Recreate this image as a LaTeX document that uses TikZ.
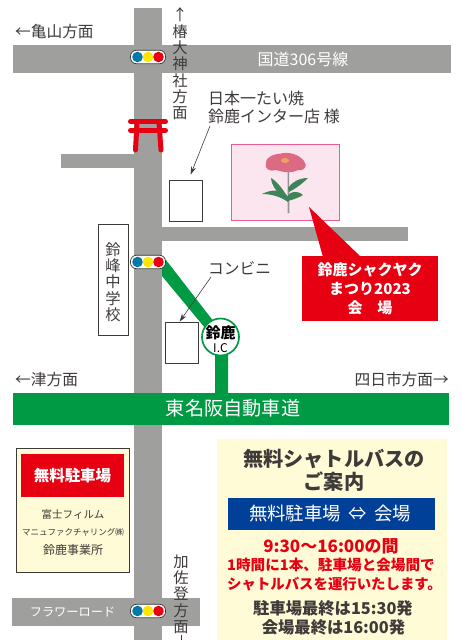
\documentclass[tikz,border=0pt]{standalone}
\usepackage{fontspec}
\setmainfont{Noto Sans CJK JP}
\usetikzlibrary{arrows.meta}
\definecolor{roadg}{HTML}{9FA09E}
\definecolor{hwy}{HTML}{009A44}
\definecolor{jred}{HTML}{E60012}
\definecolor{cream}{HTML}{FFFBD6}
\definecolor{navy}{HTML}{004098}
\definecolor{ink}{HTML}{3E3A39}
\definecolor{lblue}{HTML}{0079A8}
\definecolor{lyel}{HTML}{FFE600}
\definecolor{pinkb}{HTML}{EE5A92}
\definecolor{pinkf}{HTML}{FBE6F0}
\definecolor{leaf}{HTML}{3F8458}
\definecolor{petal}{HTML}{DC6A82}
\definecolor{heart}{HTML}{F2A060}
\tikzset{
  road/.style={fill=roadg,draw=none},
  lbl/.style={text=ink,font=\fontsize{15.7}{17}\selectfont,inner sep=0pt},
  vlbl/.style={text=ink,font=\fontsize{15.3}{16.3}\selectfont,inner sep=0pt,align=center},
  bx/.style={draw=ink,line width=.8pt,fill=white},
  lead/.style={draw=ink,line width=.6pt,-{Stealth[length=8pt,width=5pt]}},
  wlbl/.style={text=white,inner sep=0pt,align=center},
  rl/.style={text=jred,inner sep=0pt},
  bl/.style={text=ink,inner sep=0pt},
}
\newcommand{\lamp}[2]{%
  \node[draw=ink,fill=white,line width=.7pt,rounded corners=6pt,minimum width=35pt,minimum height=13.5pt,inner sep=0pt] (#1) at (#2) {};
  \fill[lblue] ([xshift=-10.5pt]#1.center) circle (5.3pt);
  \fill[lyel] (#1.center) circle (5.3pt);
  \fill[jred] ([xshift=10.5pt]#1.center) circle (5.3pt);}
\begin{document}
\begin{tikzpicture}[x=1pt,y=-1pt]
\useasboundingbox (0,0) rectangle (462,640);
\fill[white] (0,0) rectangle (462,640);
% roads
\fill[road] (134,8) rectangle (162,640);
\fill[road] (13,45) rectangle (451,73);
\fill[road] (61,154) rectangle (134,168);
\fill[road] (162,227) rectangle (408,241);
\fill[road] (12,598) rectangle (200,626);
% green link
\fill[hwy] (162,262) -- (162,276) -- (215,340) -- (215,393) -- (228,393) -- (228,340) -- (166,260) -- cycle;
\fill[hwy] (13,393) rectangle (449,425);
\node[wlbl,font=\fontsize{19.2}{21}\selectfont] (tomei) at (233,408.5) {東名阪自動車道};
% IC
\node[circle,draw=hwy,line width=1.7pt,fill=white,minimum size=37pt,inner sep=0pt] (ic) at (220.5,337) {};
\node[inner sep=0pt,font=\bfseries\fontsize{15}{16}\selectfont] (icA) at (220.5,333) {鈴鹿};
\node[inner sep=0pt,font=\fontsize{12}{13}\selectfont] (icB) at (220.5,348) {I.C};
% lights
\lamp{la}{148,57}
\lamp{lb}{148,262}
\lamp{lc}{148,611}
% torii
\begin{scope}[draw=jred,line width=5pt,line cap=round]
\draw (130.5,121.5) -- (165.5,121.5);
\draw (130.5,130.5) -- (165.5,130.5);
\draw (137,123) -- (135.5,150);
\draw (159,123) -- (161,150);
\end{scope}
% buildings
\node[bx,minimum width=33pt,minimum height=41pt,inner sep=0pt] (b1) at (185.5,200.5) {};
\node[bx,minimum width=33pt,minimum height=41pt,inner sep=0pt] (b2) at (181.5,342.5) {};
\node[bx,minimum width=30pt,minimum height=111pt,inner sep=0pt] (sch) at (113,280) {};
\node[vlbl] (schl) at (113,282) {鈴\\峰\\中\\学\\校};
% labels
\node[lbl,anchor=west] (kame) at (15,31.5) {←亀山方面};
\node[vlbl] (tsub) at (180,64) {↑\\椿\\大\\神\\社\\方\\面};
\node[wlbl,font=\fontsize{16}{17}\selectfont] (r306) at (303,59) {国道306号線};
\node[lbl,anchor=west,align=left,font=\fontsize{16}{18.5}\selectfont] (nihon) at (208,107.5) {日本一たい焼\\鈴鹿インター店 様};
\coordinate (nihonEnd) at (210,126);
\draw[lead] (nihonEnd) -- ([shift={(22pt,5pt)}]b1.north west);
\node[lbl,anchor=west] (conv) at (208,268) {コンビニ};
\coordinate (convEnd) at (211,277);
\draw[lead] (convEnd) -- ([xshift=15pt]b2.north west);
\node[lbl,anchor=west] (tsu) at (15,380) {←津方面};
\node[lbl,anchor=east] (yok) at (449,380) {四日市方面→};
\node[vlbl] (kasa) at (181,594) {加\\佐\\登\\方\\面};
\coordinate (kasaEnd) at (181,640);
\draw[ink,line width=.6pt] (kasa.south) ++(0,1.5) -- (kasaEnd);
\node[wlbl,font=\fontsize{12.2}{13}\selectfont] (flower) at (72.5,612) {フラワーロード};
% venue
\node[draw=pinkb,fill=pinkf,line width=1pt,minimum width=108pt,minimum height=76pt,inner sep=0pt] (venue) at (285,182) {};
% flower
\begin{scope}
\fill[ink!55] (287.5,170) -- (289,170) -- (289.5,213) -- (287.5,213) -- cycle;
\fill[leaf] (288,202) .. controls (281,197) and (272,194) .. (262,194) .. controls (272,189) and (282,189) .. (288,197) -- cycle;
\fill[leaf] (288,201) .. controls (295,199) and (300,197) .. (303,195) .. controls (297,190) and (290,191) .. (287,197) -- cycle;
\fill[leaf] (287,196) .. controls (283,190) and (278,182) .. (271,178) .. controls (272,188) and (279,194) .. (286,199) -- cycle;
\fill[leaf] (289,192) .. controls (295,189) and (302,184) .. (308,178) .. controls (299,178) and (292,182) .. (288,188) -- cycle;
\fill[petal] (266,163) .. controls (266,156) and (275,154) .. (281,153.5) .. controls (287,152) and (298,153) .. (304,161) .. controls (308,166) and (305,171) .. (298,170) .. controls (290,174) and (283,172) .. (276,170) .. controls (270,172) and (264,169) .. (266,163) -- cycle;
\fill[heart] (285,160.5) ellipse (4pt and 2.5pt);
\end{scope}
% red callout
\node[fill=jred,minimum width=136pt,minimum height=65pt,inner sep=0pt] (redbox) at (370,288.5) {};
\coordinate (tip) at (309,207);
\fill[jred] (tip) -- (361,257) -- (323,257) -- cycle;
\node[wlbl,font=\bfseries\fontsize{15}{19}\selectfont] (redtxt) at (370,288.5) {鈴鹿シャクヤク\\まつり2023\\会\hspace{1em}場};
% left yellow box
\node[draw=ink,fill=cream,line width=1pt,minimum width=113pt,minimum height=124pt,inner sep=0pt] (park) at (72.5,510) {};
\node[fill=jred,minimum width=103pt,minimum height=43pt,inner sep=0pt,wlbl,font=\bfseries\fontsize{15.5}{17}\selectfont] (parkt) at (72.5,475.5) {無料駐車場};
\node[lbl,font=\fontsize{10.5}{12}\selectfont] (p1) at (73,514.5) {富士フィルム};
\node[lbl,font=\fontsize{8.5}{12}\selectfont] (p2) at (73,532) {マニュファクチャリング㈱};
\node[lbl,font=\fontsize{12}{13}\selectfont] (p3) at (73,550) {鈴鹿事業所};
% right yellow box
\fill[cream] (217,439) rectangle (447,640);
\node[bl,font=\bfseries\fontsize{20.2}{23}\selectfont,align=center] (h) at (334,470.5) {無料シャトルバスの\\ご案内};
\node[fill=navy,minimum width=207pt,minimum height=32pt,inner sep=0pt] (blue) at (331.5,514) {};
\node[wlbl,font=\fontsize{18.4}{20}\selectfont] (bluet) at (330,514) {無料駐車場\hspace{.4em}⇔\hspace{.4em}会場};
\node[rl,font=\bfseries\fontsize{17}{19}\selectfont] (r1) at (331,546) {9:30〜16:00の間};
\node[rl,font=\bfseries\fontsize{14.6}{18}\selectfont] (r2) at (331,565) {1時間に1本、駐車場と会場間で};
\node[rl,font=\bfseries\fontsize{14.4}{18}\selectfont] (r3) at (334.5,584) {シャトルバスを運行いたします。};
\node[bl,font=\bfseries\fontsize{16.3}{18}\selectfont] (d1) at (333,608) {駐車場最終は15:30発};
\node[bl,font=\bfseries\fontsize{16.3}{18}\selectfont] (d2) at (333.5,627) {会場最終は16:00発};
\end{tikzpicture}
\end{document}
